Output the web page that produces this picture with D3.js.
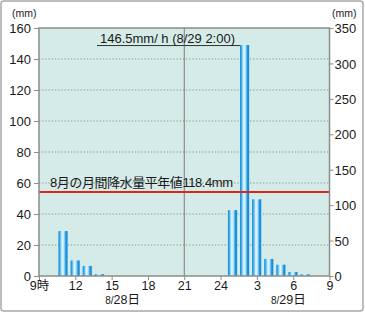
<!DOCTYPE html>
<html><head><meta charset="utf-8">
<script src="https://cdn.jsdelivr.net/npm/d3@7"></script>
<style>
body{margin:0;background:#fff;}
svg{display:block;font-family:"Liberation Sans","Noto Sans CJK JP",sans-serif;}
</style></head><body>
<svg id="c" width="365" height="314"></svg>
<script>
// hours since 8/28 9:00 at which each hourly bar is centred
const barHours = [2, 3, 4, 5, 16, 17, 18, 19, 20, 21, 22];
const barValues = [29, 10, 6.5, 1.2, 42.5, 149, 49.5, 11, 7.3, 2.6, 1.1];
const xTickHours = [0, 3, 6, 9, 12, 15, 18, 21, 24];
const xTickLabels = ["9時", "12", "15", "18", "21", "24", "3", "6", "9"];
const leftTicks = [0, 20, 40, 60, 80, 100, 120, 140, 160];
const rightTicks = [0, 50, 100, 150, 200, 250, 300, 350];
const normalValue = 118.4;
const normalLabel = "8月の月間降水量平年値118.4mm";
const peakLabel = "146.5mm/ h (8/29 2:00)";
const peakIndex = 5;
const dayLabels = [{h: 6.9, pre: "8/", txt: "28日"}, {h: 20.6, pre: "8/", txt: "29日"}];
const dividerHour = 12;

const FONT = '"Liberation Sans","Noto Sans CJK JP",sans-serif';
const svg = d3.select("#c");
const L = 39, R = 329.5, T = 28, B = 276;
const x = d3.scaleLinear().domain([0, 24]).range([L, R]);
const yL = d3.scaleLinear().domain([0, 160]).range([B, T]);
const yR = d3.scaleLinear().domain([0, 350]).range([B, T]);

// outer frame
svg.append("rect").attr("x", 1).attr("y", 1).attr("width", 362).attr("height", 310)
  .attr("rx", 3).attr("fill", "#fff").attr("stroke", "#a8a8a8").attr("stroke-width", 1.5);

// plot background
svg.append("rect").attr("x", L).attr("y", T).attr("width", R - L).attr("height", B - T)
  .attr("fill", "#d5ebe8");

// gradient
const defs = svg.append("defs");
const g = defs.append("linearGradient").attr("id", "bg").attr("x1", "0").attr("x2", "1").attr("y1", "0").attr("y2", "0");
[[0, "#1383cf"], [0.12, "#2ea6e6"], [0.4, "#e8f8ff"], [0.58, "#b5e2f8"], [0.78, "#1b95dd"], [0.9, "#178bd3"], [1, "#8fd0f0"]]
  .forEach(([o, c]) => g.append("stop").attr("offset", o).attr("stop-color", c));

// gridlines
svg.append("g").selectAll("line").data(leftTicks.filter(d => d > 0 && d < 160)).join("line")
  .attr("x1", L).attr("x2", R).attr("y1", d => yL(d)).attr("y2", d => yL(d))
  .attr("stroke", "#8a8a8a").attr("stroke-width", 1).attr("stroke-dasharray", "1.2,2");

// divider vertical line
svg.append("line").attr("x1", x(dividerHour)).attr("x2", x(dividerHour)).attr("y1", T).attr("y2", B)
  .attr("stroke", "#7a7a7a").attr("stroke-width", 1);

// bars
const bw = 9.5;
svg.append("g").selectAll("rect").data(barValues).join("rect")
  .attr("x", (d, i) => x(barHours[i]) - bw / 2).attr("width", bw)
  .attr("y", d => yL(d)).attr("height", d => B - yL(d))
  .attr("fill", "url(#bg)");

// normal line
svg.append("line").attr("x1", L).attr("x2", R).attr("y1", yR(normalValue)).attr("y2", yR(normalValue))
  .attr("stroke", "#e2231a").attr("stroke-width", 2);
svg.append("text").attr("x", 50).attr("y", yR(normalValue) - 5)
  .attr("font-size", 13).attr("fill", "#1a1a1a").attr("textLength", 183).attr("lengthAdjust", "spacing")
  .text(normalLabel);

// peak annotation
const py = yL(barValues[peakIndex]) + 0.5;
svg.append("line").attr("x1", 97).attr("x2", x(barHours[peakIndex]) - bw / 2).attr("y1", py).attr("y2", py)
  .attr("stroke", "#333").attr("stroke-width", 1);
svg.append("text").attr("x", 100).attr("y", py - 3).attr("font-size", 13).attr("fill", "#1a1a1a")
  .attr("textLength", 135).attr("lengthAdjust", "spacing").text(peakLabel);

// frame
svg.append("rect").attr("x", L).attr("y", T).attr("width", R - L).attr("height", B - T)
  .attr("fill", "none").attr("stroke", "#8c8c8c").attr("stroke-width", 1.5);

// axes
const axL = d3.axisLeft(yL).tickValues(leftTicks).tickSize(5).tickPadding(3);
const gL = svg.append("g").attr("transform", `translate(${L},0)`).call(axL);
const axR = d3.axisRight(yR).tickValues(rightTicks).tickSize(4).tickPadding(1);
const gR = svg.append("g").attr("transform", `translate(${R},0)`).call(axR);
const axB = d3.axisBottom(x).tickValues(xTickHours).tickFormat((d, i) => xTickLabels[i]).tickSize(4).tickPadding(1);
const gB = svg.append("g").attr("transform", `translate(0,${B})`).call(axB);
[gL, gR, gB].forEach(a => {
  a.select(".domain").remove();
  a.selectAll(".tick line").attr("stroke", "#8c8c8c");
  a.selectAll(".tick text").attr("font-size", 13).attr("fill", "#1a1a1a").attr("font-family", FONT);
});
gL.selectAll(".tick text").attr("dy", "0.36em");
gR.selectAll(".tick text").attr("dy", "0.36em");
gB.selectAll(".tick text").attr("font-size", 12.5).attr("dy", "0.72em");

// unit labels
svg.append("text").attr("x", 12).attr("y", 17).attr("font-size", 10.5).attr("fill", "#1a1a1a").text("(mm)");
svg.append("text").attr("x", 332).attr("y", 17).attr("font-size", 10.5).attr("fill", "#1a1a1a").text("(mm)");

// day labels
dayLabels.forEach(dl => {
  const t = svg.append("text").attr("x", x(dl.h)).attr("y", 304).attr("text-anchor", "middle")
    .attr("font-size", 12.5).attr("fill", "#1a1a1a");
  t.append("tspan").attr("font-size", 10).text(dl.pre);
  t.append("tspan").text(dl.txt);
});
</script>
</body></html>
